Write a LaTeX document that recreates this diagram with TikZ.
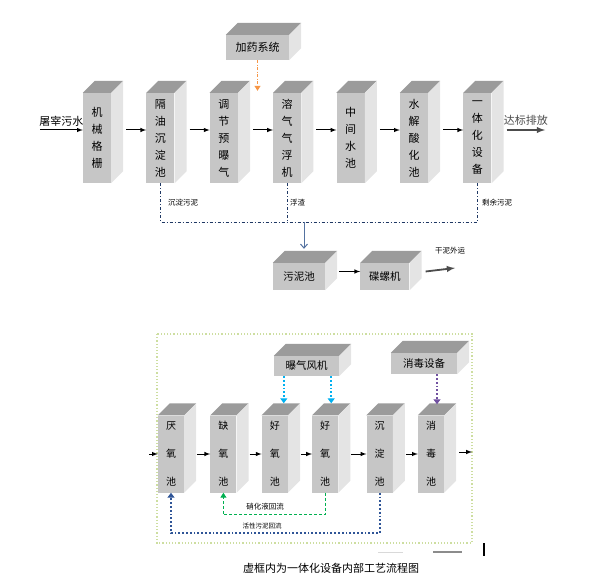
\documentclass[tikz,border=0pt]{standalone}
\usepackage{fontspec}
\newfontfamily\cjk{Noto Sans CJK SC}
\usetikzlibrary{positioning}
\usetikzlibrary{arrows.meta}
\definecolor{frontc}{RGB}{198,198,198}
\definecolor{topc}{RGB}{155,155,155}
\definecolor{sidec}{RGB}{228,228,228}
\definecolor{sludgec}{RGB}{31,56,100}
\definecolor{mudc}{RGB}{84,114,160}
\definecolor{dosec}{RGB}{247,150,70}
\definecolor{airc}{RGB}{0,176,240}
\definecolor{disc}{RGB}{112,80,160}
\definecolor{nitc}{RGB}{0,176,80}
\definecolor{retc}{RGB}{47,85,151}
\definecolor{framec}{RGB}{205,222,160}
\tikzset{
  tank/.style={fill=frontc,inner sep=0pt,align=center,minimum width=28pt,
    minimum height=90pt,font=\cjk\fontsize{11}{17}\selectfont},
  basin/.style={fill=frontc,inner sep=0pt,align=center,minimum width=26pt,
    minimum height=77pt,font=\cjk\fontsize{10}{28}\selectfont},
  unit/.style={fill=frontc,inner sep=0pt,font=\cjk\fontsize{10.5}{12}\selectfont},
  lab/.style={font=\cjk\fontsize{11}{13}\selectfont,inner sep=1pt},
  note/.style={font=\cjk\fontsize{7.5}{9}\selectfont,inner sep=1pt},
  flow/.style={-latex,line width=1pt},
  outflow/.style={-latex,line width=1.8pt,black!70},
  sludge/.style={sludgec,line width=0.9pt,dash pattern=on 3pt off 2pt on 1pt off 2pt},
  mudflow/.style={mudc,line width=1pt,-{Straight Barb[length=4pt,width=7pt]}},
  dose/.style={dosec,line width=1pt,dash pattern=on 3pt off 1.5pt on 1pt off 1.5pt,
    -{Triangle[length=5pt,width=6pt]}},
  air/.style={airc,line width=1.8pt,dotted,-{Triangle[length=5pt,width=7pt]}},
  disf/.style={disc,line width=1.8pt,dotted,-{Triangle[length=5pt,width=7pt]}},
  nitro/.style={nitc,line width=1pt,densely dashed,-{Triangle[length=5pt,width=6pt]}},
  ret/.style={retc,line width=1.8pt,dotted,-{Triangle[length=5pt,width=7pt]}}
}
\begin{document}
\begin{tikzpicture}[x=1pt,y=-1pt]
  \useasboundingbox (0,0) rectangle (589,583);
  \node (m1) [tank] at (97,138) {机\\械\\格\\栅};
  \node (m2) [tank,right=35pt of m1] {隔\\油\\沉\\淀\\池};
  \node (m3) [tank,right=35pt of m2] {调\\节\\预\\曝\\气};
  \node (m4) [tank,right=35pt of m3] {溶\\气\\气\\浮\\机};
  \node (m5) [tank,right=35pt of m4] {中\\间\\水\\池};
  \node (m6) [tank,right=35pt of m5] {水\\解\\酸\\化\\池};
  \node (m7) [tank,right=35pt of m6] {一\\体\\化\\设\\备};
  \node (jia) [unit,minimum width=63pt,minimum height=25pt,font=\cjk\fontsize{11}{13}\selectfont]
    at (257.5,47.5) {加药系统};
  \node (pool) [unit,minimum width=52pt,minimum height=27pt] at (299,276.5) {污泥池};
  \node (press) [unit,minimum width=49pt,minimum height=27pt,right=35pt of pool] {碟螺机};
  \node (b1) [basin] at (171,454) {厌\\氧\\池};
  \node (b2) [basin,right=26pt of b1] {缺\\氧\\池};
  \node (b3) [basin,right=25pt of b2] {好\\氧\\池};
  \node (b4) [basin,right=24pt of b3] {好\\氧\\池};
  \node (b5) [basin,right=28pt of b4] {沉\\淀\\池};
  \node (b6) [basin,right=25pt of b5] {消\\毒\\池};
  \node (fan) [unit,minimum width=65pt,minimum height=20pt] at (306.5,366) {曝气风机};
  \node (dis) [unit,minimum width=66pt,minimum height=21pt] at (424,363.5) {消毒设备};
  \foreach \n in {m1,m2,m3,m4,m5,m6,m7,jia,pool,press,b1,b2,b3,b4,b5,b6,fan,dis} {
    \fill[topc] (\n.north west) -- ++(12pt,12pt) -- ([shift={(12pt,12pt)}]\n.north east)
      -- (\n.north east) -- cycle;
    \fill[sidec] (\n.north east) -- ++(12pt,12pt) -- ([shift={(12pt,12pt)}]\n.south east)
      -- (\n.south east) -- cycle;
  }
  \coordinate (src) at (40,130);
  \coordinate (out) at (545,130);
  \draw[flow] (src) -- node (srcl) [lab,above=2pt] {屠宰污水} (src -| m1.west);
  \foreach \a/\b in {m1/m2,m2/m3,m3/m4,m4/m5,m5/m6,m6/m7}
    \draw[flow] ([xshift=15pt,yshift=8pt]\a.east) -- ([yshift=8pt]\b.west);
  \draw[outflow] ([xshift=15pt,yshift=8pt]m7.east) -- node (outl) [lab,above=3pt] {达标排放} (out);
  \draw[dose,shorten >=2pt] (jia.south) -- (jia.south |- m4.north);
  \coordinate (mud) at (304,222);
  \draw[sludge] (m2.south) |- (m7.south |- mud) -- (m7.south);
  \draw[sludge] (m4.south) -- (m4.south |- mud);
  \node (n1) [note,anchor=west] at (167,203) {沉淀污泥};
  \node (n2) [note,anchor=west] at (289,203) {浮渣};
  \node (n3) [note,anchor=west] at (481,203) {剩余污泥};
  \draw[mudflow,shorten >=14pt] (mud) -- (mud |- pool.north);
  \draw[flow] ([xshift=14pt,yshift=5pt]pool.east) -- ([yshift=5pt]press.west);
  \coordinate (dry) at (455,268);
  \draw[outflow] ([xshift=16pt,yshift=5pt]press.east) -- (dry);
  \node (dryl) [note] at (450,251) {干泥外运};
  \draw[framec,dotted,line width=1.2pt] (157,334) rectangle (472,543);
  \coordinate (bin) at (149,454);
  \coordinate (bout) at (472,452);
  \draw[flow] (bin) -- (b1.west);
  \foreach \a/\b in {b1/b2,b2/b3,b3/b4,b4/b5,b5/b6}
    \draw[flow] ([xshift=13pt]\a.east) -- (\b.west);
  \draw[flow] ([xshift=15pt,yshift=2pt]b6.east) -- (bout);
  \coordinate (t3) at ([shift={(9pt,12pt)}]b3.north);
  \coordinate (t4) at ([shift={(6pt,12pt)}]b4.north);
  \coordinate (t6) at ([shift={(6pt,11pt)}]b6.north);
  \draw[air] (fan.south -| t3) -- (t3);
  \draw[air] (fan.south -| t4) -- (t4);
  \draw[disf] (dis.south -| t6) -- (t6);
  \draw[nitro] (b4.south) -- ++(0,22) -| (b2.south);
  \draw[ret] (b5.south) -- ++(0,40) -| (b1.south);
  \node (nitl) [note] at (265,507) {硝化液回流};
  \node (retl) [note,font=\cjk\fontsize{6.5}{8}\selectfont] at (262,526) {活性污泥回流};
  \node (cap) [lab] at (331,568) {虚框内为一体化设备内部工艺流程图};
  \draw[black!15,line width=1pt] (378,552) -- (403,552);
  \draw[black!45,line width=1.5pt] (433,552) -- (462,552);
  \draw[line width=2pt] (484,543) -- (484,556);
\end{tikzpicture}
\end{document}
